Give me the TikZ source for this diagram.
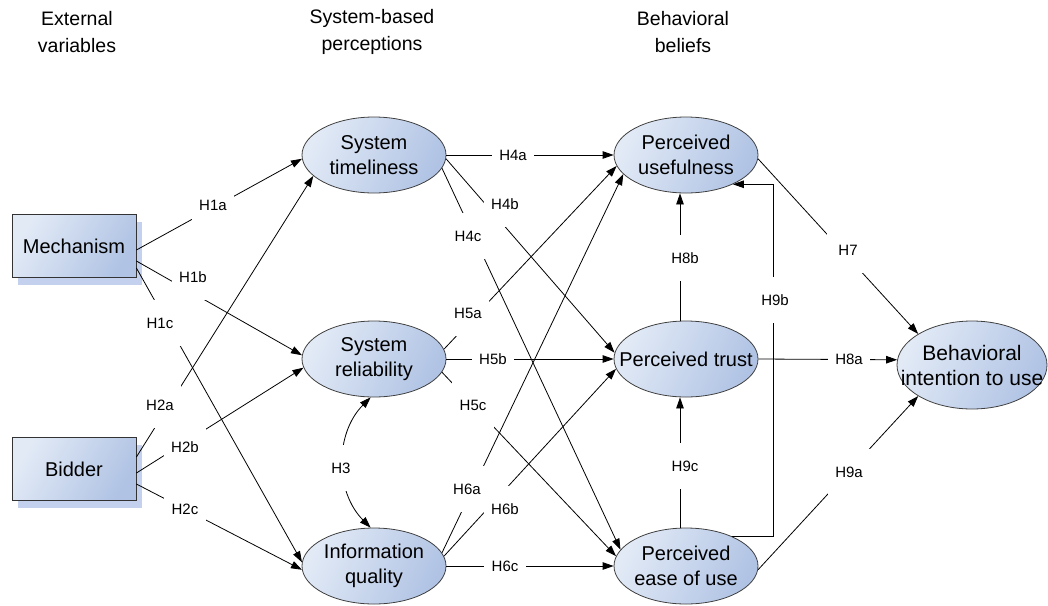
\documentclass[tikz,border=0pt]{standalone}
\usepackage{fontspec}
\setmainfont{Liberation Sans}
\usetikzlibrary{arrows.meta,shapes.geometric,shadows}
\definecolor{eLight}{RGB}{226,234,246}
\definecolor{eDark}{RGB}{176,195,228}
\definecolor{shadowcol}{RGB}{196,209,238}
\begin{document}
\begin{tikzpicture}[x=1pt,y=-1pt,
  ell/.style={ellipse, draw=black!75, line width=0.8pt, minimum width=144pt, minimum height=76pt, inner sep=0pt,
    top color=eLight, bottom color=eDark, shading angle=65},
  etext/.style={align=center, inner sep=0pt, font=\fontsize{20}{25}\selectfont},
  boxn/.style={rectangle, draw=black!80, line width=0.8pt, minimum width=124pt, minimum height=63pt,
    top color=eLight, bottom color=eDark, shading angle=60,
    drop shadow={shadow xshift=6pt, shadow yshift=-7pt, fill=shadowcol, opacity=1},
    font=\fontsize{20}{25}\selectfont},
  ttl/.style={align=center, inner sep=0pt, font=\fontsize{19.5}{27}\selectfont},
  lblbox/.style={fill=white, minimum width=42pt, minimum height=46pt, inner sep=0pt, font=\fontsize{15}{18}\selectfont},
  arr/.style={-{Triangle[length=11pt,width=7.5pt]}, line width=0.8pt},
  arrb/.style={{Triangle[length=11pt,width=7.5pt]}-{Triangle[length=11pt,width=7.5pt]}, line width=0.8pt}
]
\useasboundingbox (0,0) rectangle (1048,605);

% titles
\node[ttl] (t1) at (77,32) {External\\variables};
\node[ttl] (t2) at (372,32) {System-based\\perceptions};
\node[ttl] (t3) at (683,32) {Behavioral\\beliefs};

% nodes
\node[boxn] (mech) at (74,246) {Mechanism};
\node[boxn] (bid) at (74,469) {Bidder};
\node[ell, label={[etext]center:System\\timeliness}] (st) at (374,155) {};
\node[ell, label={[etext]center:System\\reliability}] (sr) at (374,359) {};
\node[ell, label={[etext]center:Information\\quality}] (iq) at (374,566) {};
\node[ell, label={[etext]center:Perceived\\usefulness}] (pu) at (686,155) {};
\node[ell, label={[etext]center:Perceived trust}] (pt) at (686,359) {};
\node[ell, label={[etext]center:Perceived\\ease of use}] (pe) at (686,566) {};
\node[ell, minimum width=150pt, minimum height=88pt, label={[etext, font=\fontsize{21}{25}\selectfont]center:Behavioral\\intention to use}] (bi) at (972,365) {};

% connectors
\draw[arr] ([yshift=-4pt]mech.east) -- (st.183);
\draw[arr] ([yshift=-15pt]mech.east) -- (sr.177);
\draw[arr] ([yshift=-22pt]mech.east) -- (iq.177);
\draw[arr] ([yshift=12pt]bid.east) -- (st.199);
\draw[arr] ([yshift=-4pt]bid.east) -- (sr.187);
\draw[arr] ([yshift=-15pt]bid.east) -- (iq.183);
\draw[arrb] (sr.265) to[bend right=45] (iq.95);
\draw[arr] (st.east) -- (pu.west);
\draw[arr] (st.357) -- (pt.175);
\draw[arr] (st.349) -- (pe.166);
\draw[arr] (sr.8) -- (pu.189);
\draw[arr] (sr.east) -- (pt.west);
\draw[arr] (sr.349) -- (pe.172);
\draw[arr] (iq.11) -- (pu.197);
\draw[arr] (iq.8) -- (pt.188);
\draw[arr] (iq.east) -- (pe.west);
\draw[arr] (pu.357) -- (bi.150);
\draw[arr] (pt.east) -- (bi.176);
\draw[arr] ([xshift=-6pt]pt.north) -- ([xshift=-6pt]pu.south);
\draw[arr] ([xshift=-6pt]pe.north) -- ([xshift=-6pt]pt.south);
\coordinate (h9x) at (773,360);
\draw[arr] (pe.33) -| (h9x) |- (pu.328);
\draw[arr] (pe.357) -- (bi.210);

% labels
\node[lblbox] (l1a) at (213,205) {H1a};
\node[lblbox] (l1b) at (193,277) {H1b};
\node[lblbox] (l1c) at (160,323) {H1c};
\node[lblbox] (l2a) at (160,405) {H2a};
\node[lblbox] (l2b) at (185,447) {H2b};
\node[lblbox] (l2c) at (185,509) {H2c};
\node[lblbox] (l3) at (341,468) {H3};
\node[lblbox] (l4a) at (513,155) {H4a};
\node[lblbox] (l4b) at (505,204) {H4b};
\node[lblbox] (l4c) at (468,236) {H4c};
\node[lblbox] (l5a) at (468,313) {H5a};
\node[lblbox] (l5b) at (493,359) {H5b};
\node[lblbox] (l5c) at (473,405) {H5c};
\node[lblbox] (l6a) at (467,489) {H6a};
\node[lblbox] (l6b) at (505,509) {H6b};
\node[lblbox] (l6c) at (505,566) {H6c};
\node[lblbox] (l7) at (848,250) {H7};
\node[lblbox] (l8a) at (849,359) {H8a};
\node[lblbox] (l8b) at (685,258) {H8b};
\node[lblbox] (l9a) at (849,472) {H9a};
\node[lblbox] (l9b) at (775,300) {H9b};
\node[lblbox] (l9c) at (685,466) {H9c};
\end{tikzpicture}
\end{document}
